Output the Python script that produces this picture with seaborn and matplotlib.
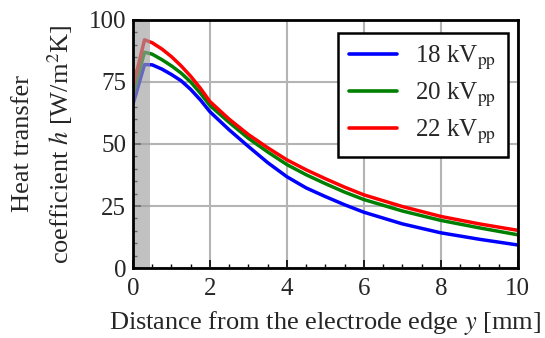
import numpy as np
import pandas as pd
import matplotlib
matplotlib.use('Agg')
import matplotlib.pyplot as plt
import seaborn as sns
from matplotlib.ticker import MultipleLocator

# data
distance = [0, 0.3, 0.5, 0.75, 1, 1.25, 1.5, 1.75, 2, 2.5, 3, 3.5, 4, 4.5, 5, 5.5, 6, 7, 8, 9, 10]
h_18 = [66, 82, 81.9, 80.2, 78, 75.5, 72, 67.8, 63, 55.7, 49, 42.5, 36.8, 32.3, 28.8, 25.5, 22.5, 17.8, 14.2, 11.6, 9.3]
h_20 = [70, 87, 86.2, 84, 81.5, 78.6, 75, 70.5, 65.5, 58.7, 52.3, 46.8, 41.7, 37.6, 34, 30.6, 27.6, 23, 19.2, 16.2, 13.4]
h_22 = [73, 92, 90.8, 88.3, 85.2, 81.5, 77.3, 72.5, 67.1, 60, 53.8, 48.5, 43.6, 39.6, 36, 32.6, 29.5, 24.8, 20.8, 17.8, 15.2]
labels = [r'18 kV$_\mathrm{pp}$', r'20 kV$_\mathrm{pp}$', r'22 kV$_\mathrm{pp}$']
colors = ['#0000ff', '#008000', '#ff0000']
electrode_end = 0.45

rows = []
for lab, vals in zip(labels, [h_18, h_20, h_22]):
    for x, v in zip(distance, vals):
        rows.append({'y': x, 'h': v, 'voltage': lab})
df = pd.DataFrame(rows)

sns.set_style('white')
plt.rcParams['font.family'] = ['Liberation Serif', 'DejaVu Serif']
plt.rcParams['mathtext.fontset'] = 'stix'
plt.rcParams['font.size'] = 18

fig = plt.figure(figsize=(5.45, 3.38), dpi=100)
ax = fig.add_axes([0.244, 0.207, 0.706, 0.734])

sns.lineplot(data=df, x='y', y='h', hue='voltage', palette=colors,
             linewidth=2.5, ax=ax, zorder=3)

# electrode area
ax.axvspan(0, electrode_end, color='#a0a0a0', alpha=0.65, lw=0, zorder=4)

ax.set_xlim(0, 10)
ax.set_ylim(0, 100)
ax.xaxis.set_major_locator(MultipleLocator(2))
ax.xaxis.set_minor_locator(MultipleLocator(0.5))
ax.yaxis.set_major_locator(MultipleLocator(25))
ax.yaxis.set_minor_locator(MultipleLocator(5))
ax.tick_params(which='both', direction='in', top=False, right=False,
               bottom=True, left=True, labelsize=18, color='black')
ax.tick_params(which='major', length=6, width=1.2, pad=5)
ax.tick_params(which='minor', length=3, width=1)
ax.tick_params(axis='x', which='major', pad=7)
ax.grid(True, which='major', color='#b4b4b4', linewidth=1.5, zorder=0)
ax.set_axisbelow(True)
for s in ax.spines.values():
    s.set_color('black')
    s.set_linewidth(2)
    s.set_zorder(6)

ax.set_xlabel(r'Distance from the electrode edge $y$ [mm]', fontsize=19, labelpad=7)
ax.set_ylabel('Heat transfer\n' + r'coefficient $h$ [W/m$^2$K]', fontsize=19,
              linespacing=1.45, labelpad=10)

leg = ax.legend(loc='upper right', bbox_to_anchor=(0.974, 0.948), fontsize=18,
                frameon=True, fancybox=False, edgecolor='black', framealpha=1,
                handlelength=1.9, handletextpad=0.75, labelspacing=0.35,
                borderpad=0.45, borderaxespad=0)
leg.get_frame().set_linewidth(1.8)
leg.set_zorder(7)
for line in leg.get_lines():
    line.set_linewidth(2.6)

plt.savefig('out.png', dpi=100)
